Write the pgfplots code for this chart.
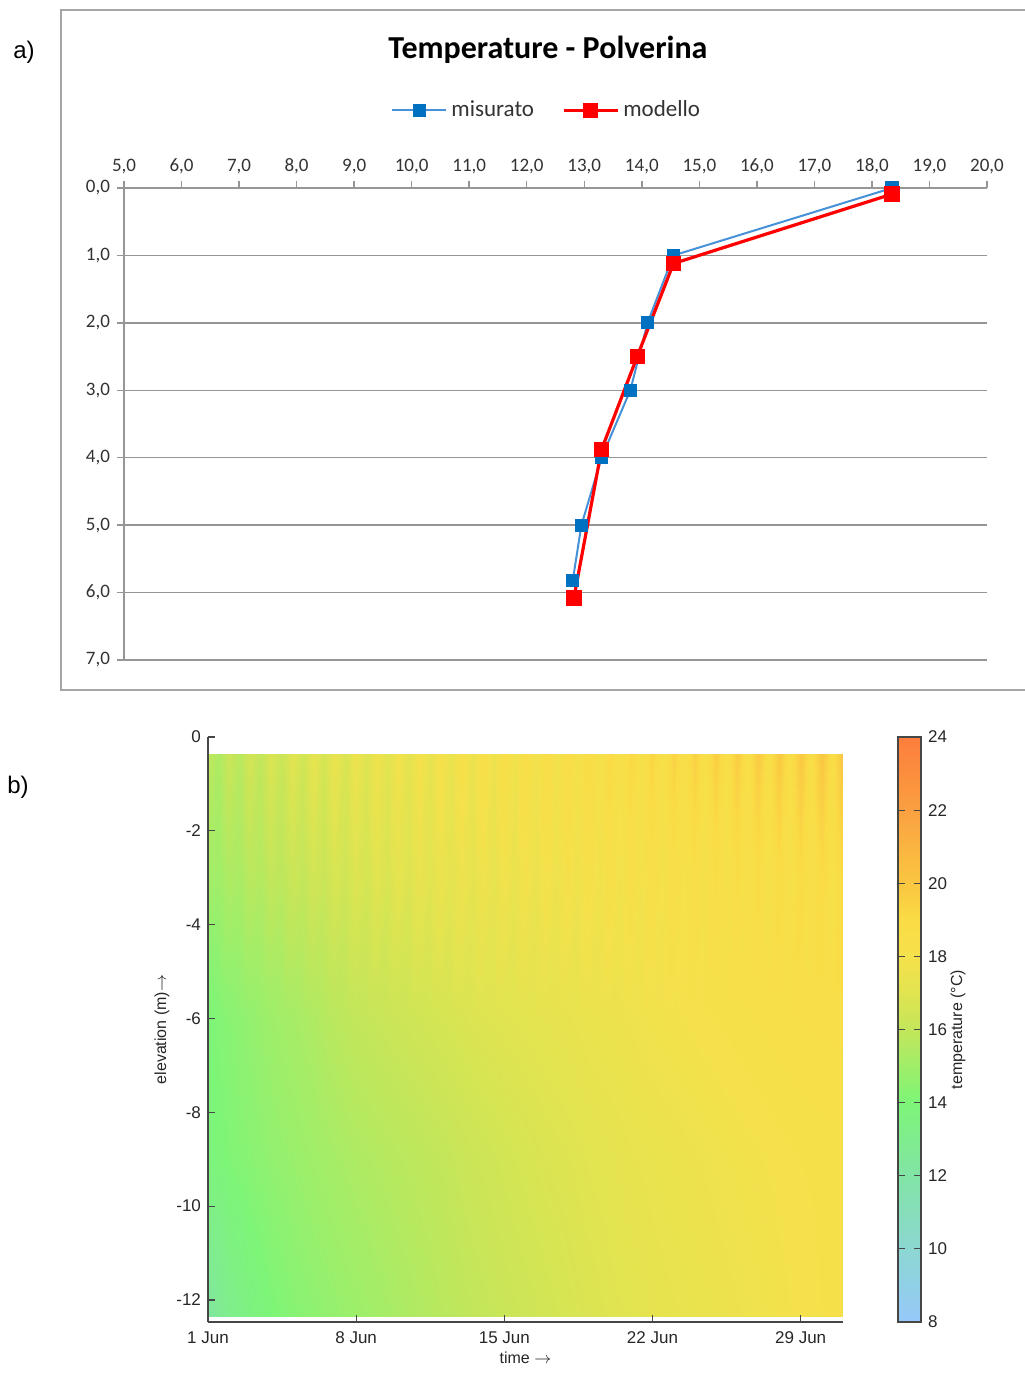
\documentclass[border=0pt]{standalone}
\usepackage{fontspec}
\setmainfont{Carlito}
\newfontfamily\arial{Liberation Sans}
\usepackage{pgfplots}
\usepackage{pgfplotstable}
\pgfplotsset{compat=1.18}
\definecolor{framegray}{RGB}{165,165,165}
\definecolor{gridgray}{RGB}{150,150,150}
\definecolor{misblue}{RGB}{0,112,192}
\definecolor{misline}{RGB}{70,145,215}
\definecolor{modred}{RGB}{255,0,0}
\definecolor{mlgray}{RGB}{70,70,70}

% panel a: temperature (x) vs depth (y)
\pgfplotstableread{
T z
18.35 0.00
14.55 1.00
14.10 2.00
13.80 3.00
13.30 4.00
12.95 5.00
12.80 5.82
}\misurato
\pgfplotstableread{
T z
18.35 0.09
14.55 1.12
13.92 2.50
13.30 3.88
12.82 6.08
}\modello

% panel b: temperature field, days since 1 Jun vs elevation
\pgfplotstableread[row sep=\\]{
x y t\\
0 -0.36 15.95\\ 0.5 -0.36 15.4\\ 1 -0.36 16.27\\ 1.5 -0.36 15.7\\ 2 -0.36 16.57\\ 2.5 -0.36 15.96\\
3 -0.36 16.84\\ 3.5 -0.36 16.2\\ 4 -0.36 17.09\\ 4.5 -0.36 16.41\\ 5 -0.36 17.31\\ 5.5 -0.36 16.58\\
6 -0.36 17.46\\ 6.5 -0.36 16.72\\ 7 -0.36 17.63\\ 7.5 -0.36 16.86\\ 8 -0.36 17.78\\ 8.5 -0.36 17.0\\
9 -0.36 17.95\\ 9.5 -0.36 17.14\\ 10 -0.36 18.1\\ 10.5 -0.36 17.25\\ 11 -0.36 18.22\\ 11.5 -0.36 17.37\\
12 -0.36 18.37\\ 12.5 -0.36 17.48\\ 13 -0.36 18.49\\ 13.5 -0.36 17.58\\ 14 -0.36 18.59\\ 14.5 -0.36 17.66\\
15 -0.36 18.71\\ 15.5 -0.36 17.76\\ 16 -0.36 18.81\\ 16.5 -0.36 17.84\\ 17 -0.36 18.93\\ 17.5 -0.36 17.94\\
18 -0.36 19.03\\ 18.5 -0.36 18.02\\ 19 -0.36 19.15\\ 19.5 -0.36 18.12\\ 20 -0.36 19.25\\ 20.5 -0.36 18.2\\
21 -0.36 19.37\\ 21.5 -0.36 18.3\\ 22 -0.36 19.47\\ 22.5 -0.36 18.36\\ 23 -0.36 19.54\\ 23.5 -0.36 18.43\\
24 -0.36 19.64\\ 24.5 -0.36 18.49\\ 25 -0.36 19.71\\ 25.5 -0.36 18.56\\ 26 -0.36 19.81\\ 26.5 -0.36 18.62\\
27 -0.36 19.88\\ 27.5 -0.36 18.66\\ 28 -0.36 19.93\\ 28.5 -0.36 18.7\\ 29 -0.36 20.0\\ 29.5 -0.36 18.74\\
30 -0.36 20.05\\
0 -3 15.15\\ 0.5 -3 15.0\\ 1 -3 15.46\\ 1.5 -3 15.29\\ 2 -3 15.77\\ 2.5 -3 15.56\\
3 -3 16.02\\ 3.5 -3 15.8\\ 4 -3 16.28\\ 4.5 -3 16.02\\ 5 -3 16.49\\ 5.5 -3 16.21\\
6 -3 16.7\\ 6.5 -3 16.4\\ 7 -3 16.91\\ 7.5 -3 16.57\\ 8 -3 17.06\\ 8.5 -3 16.71\\
9 -3 17.22\\ 9.5 -3 16.85\\ 10 -3 17.38\\ 10.5 -3 17.0\\ 11 -3 17.54\\ 11.5 -3 17.11\\
12 -3 17.65\\ 12.5 -3 17.2\\ 13 -3 17.75\\ 13.5 -3 17.3\\ 14 -3 17.86\\ 14.5 -3 17.39\\
15 -3 17.97\\ 15.5 -3 17.48\\ 16 -3 18.08\\ 16.5 -3 17.57\\ 17 -3 18.19\\ 17.5 -3 17.66\\
18 -3 18.29\\ 18.5 -3 17.76\\ 19 -3 18.4\\ 19.5 -3 17.82\\ 20 -3 18.46\\ 20.5 -3 17.89\\
21 -3 18.57\\ 21.5 -3 17.96\\ 22 -3 18.63\\ 22.5 -3 18.02\\ 23 -3 18.73\\ 23.5 -3 18.09\\
24 -3 18.79\\ 24.5 -3 18.14\\ 25 -3 18.85\\ 25.5 -3 18.18\\ 26 -3 18.91\\ 26.5 -3 18.22\\
27 -3 18.97\\ 27.5 -3 18.26\\ 28 -3 19.02\\ 28.5 -3 18.3\\ 29 -3 19.08\\ 29.5 -3 18.34\\
30 -3 19.14\\
0 -6 14.0\\ 0.5 -6 14.18\\ 1 -6 14.35\\ 1.5 -6 14.5\\ 2 -6 14.65\\ 2.5 -6 14.8\\
3 -6 14.95\\ 3.5 -6 15.08\\ 4 -6 15.2\\ 4.5 -6 15.33\\ 5 -6 15.45\\ 5.5 -6 15.6\\
6 -6 15.75\\ 6.5 -6 15.88\\ 7 -6 16.0\\ 7.5 -6 16.08\\ 8 -6 16.15\\ 8.5 -6 16.23\\
9 -6 16.3\\ 9.5 -6 16.38\\ 10 -6 16.45\\ 10.5 -6 16.53\\ 11 -6 16.6\\ 11.5 -6 16.68\\
12 -6 16.75\\ 12.5 -6 16.83\\ 13 -6 16.9\\ 13.5 -6 16.95\\ 14 -6 17.0\\ 14.5 -6 17.05\\
15 -6 17.1\\ 15.5 -6 17.15\\ 16 -6 17.2\\ 16.5 -6 17.25\\ 17 -6 17.3\\ 17.5 -6 17.38\\
18 -6 17.45\\ 18.5 -6 17.5\\ 19 -6 17.55\\ 19.5 -6 17.6\\ 20 -6 17.65\\ 20.5 -6 17.73\\
21 -6 17.8\\ 21.5 -6 17.85\\ 22 -6 17.9\\ 22.5 -6 17.95\\ 23 -6 18.0\\ 23.5 -6 18.05\\
24 -6 18.1\\ 24.5 -6 18.15\\ 25 -6 18.2\\ 25.5 -6 18.25\\ 26 -6 18.3\\ 26.5 -6 18.35\\
27 -6 18.4\\ 27.5 -6 18.45\\ 28 -6 18.5\\ 28.5 -6 18.53\\ 29 -6 18.55\\ 29.5 -6 18.58\\
30 -6 18.6\\
}\topband

\pgfplotstableread[row sep=\\]{
x y t\\
0 -6 14.0\\ 1 -6 14.35\\ 2 -6 14.65\\ 3 -6 14.95\\ 4 -6 15.2\\ 5 -6 15.45\\ 6 -6 15.75\\ 7 -6 16.0\\
8 -6 16.15\\ 9 -6 16.3\\ 10 -6 16.45\\ 11 -6 16.6\\ 12 -6 16.75\\ 13 -6 16.9\\ 14 -6 17.0\\ 15 -6 17.1\\
16 -6 17.2\\ 17 -6 17.3\\ 18 -6 17.45\\ 19 -6 17.55\\ 20 -6 17.65\\ 21 -6 17.8\\ 22 -6 17.9\\ 23 -6 18.0\\
24 -6 18.1\\ 25 -6 18.2\\ 26 -6 18.3\\ 27 -6 18.4\\ 28 -6 18.5\\ 29 -6 18.55\\ 30 -6 18.6\\
0 -9 13.8\\ 1 -9 14.1\\ 2 -9 14.35\\ 3 -9 14.6\\ 4 -9 14.8\\ 5 -9 15.0\\ 6 -9 15.2\\ 7 -9 15.4\\
8 -9 15.55\\ 9 -9 15.7\\ 10 -9 15.85\\ 11 -9 16.0\\ 12 -9 16.2\\ 13 -9 16.35\\ 14 -9 16.5\\ 15 -9 16.65\\
16 -9 16.8\\ 17 -9 16.9\\ 18 -9 17.05\\ 19 -9 17.15\\ 20 -9 17.3\\ 21 -9 17.4\\ 22 -9 17.5\\ 23 -9 17.6\\
24 -9 17.7\\ 25 -9 17.8\\ 26 -9 17.9\\ 27 -9 18.0\\ 28 -9 18.1\\ 29 -9 18.15\\ 30 -9 18.2\\
0 -12.35 12.3\\ 1 -12.35 13.1\\ 2 -12.35 13.6\\ 3 -12.35 14.0\\ 4 -12.35 14.3\\ 5 -12.35 14.5\\
6 -12.35 14.7\\ 7 -12.35 14.9\\ 8 -12.35 15.1\\ 9 -12.35 15.3\\ 10 -12.35 15.5\\ 11 -12.35 15.7\\
12 -12.35 15.9\\ 13 -12.35 16.05\\ 14 -12.35 16.2\\ 15 -12.35 16.35\\ 16 -12.35 16.5\\ 17 -12.35 16.65\\
18 -12.35 16.8\\ 19 -12.35 16.95\\ 20 -12.35 17.05\\ 21 -12.35 17.2\\ 22 -12.35 17.3\\ 23 -12.35 17.4\\
24 -12.35 17.5\\ 25 -12.35 17.6\\ 26 -12.35 17.7\\ 27 -12.35 17.85\\ 28 -12.35 18.0\\ 29 -12.35 18.1\\
30 -12.35 18.2\\
}\lowband

\begin{document}
\begin{tikzpicture}
\path[use as bounding box] (0,0) rectangle (512pt,-695.5pt);

% frame of panel a (right side runs off the page)
\draw[framegray, line width=1pt] (530pt,-5pt) -- (30.5pt,-5pt) -- (30.5pt,-345pt) -- (530pt,-345pt);
\node[font=\arial\fontsize{12}{14}\selectfont] at (12pt,-26pt) {a)};
\node[font=\arial\fontsize{12}{14}\selectfont] at (9pt,-393.5pt) {b)};
\node[font=\bfseries\fontsize{16}{18}\selectfont] at (274pt,-25pt) {Temperature - Polverina};

\begin{axis}[
    at={(62pt,-330pt)}, anchor=south west,
    scale only axis, width=431.5pt, height=236pt,
    xmin=5, xmax=20, ymin=0, ymax=7, y dir=reverse,
    axis x line*=top, axis y line*=left,
    xtick={5,6,...,20}, ytick={0,1,...,7},
    tick align=outside, major tick length=3.5pt,
    axis line style={gridgray, line width=0.75pt},
    tick style={gridgray, line width=0.75pt},
    ymajorgrids, grid style={gridgray, line width=0.75pt},
    tick label style={font=\fontsize{9.5}{10}\selectfont, text=black!80},
    /pgf/number format/fixed, /pgf/number format/fixed zerofill,
    /pgf/number format/precision=1, /pgf/number format/use comma,
    /pgf/number format/assume math mode=true,
    clip=false,
    legend style={at={(0.491,1.165)}, anchor=center, draw=none, fill=none,
        legend columns=2, font=\fontsize{11.5}{13}\selectfont, text=black!80,
        /tikz/every even column/.append style={column sep=12pt}},
    legend image code/.code={\draw[mark repeat=2,mark phase=2]
        plot coordinates {(0pt,0pt) (13.5pt,0pt) (27pt,0pt)};},
]
\addplot[misline, line width=1pt, mark=square*, mark size=2.8pt,
    mark options={fill=misblue, draw=misblue}] table[x=T, y=z]{\misurato};
\addlegendentry{misurato}
\addplot[modred, line width=1.6pt, mark=square*, mark size=3pt,
    mark options={fill=modred, draw=modred}] table[x=T, y=z]{\modello};
\addlegendentry{modello}
\end{axis}

\begin{axis}[
    at={(104pt,-661pt)}, anchor=south west,
    scale only axis, width=317.5pt, height=292.5pt,
    xmin=0, xmax=30, ymin=-12.47, ymax=0,
    axis on top,
    axis x line*=bottom, axis y line*=left,
    axis line style={mlgray, line width=0.6pt},
    tick align=inside, major tick length=3.5pt,
    tick style={mlgray, line width=0.6pt},
    xtick={0,7,14,21,28}, xticklabels={1 Jun,8 Jun,15 Jun,22 Jun,29 Jun},
    ytick={-12,-10,...,0},
    tick label style={font=\arial\fontsize{8.5}{10}\selectfont, text=black!85},
    xticklabel style={yshift=-1.5pt},
    /pgf/number format/assume math mode=true,
    xlabel={time $\rightarrow$}, ylabel={elevation (m)$\rightarrow$},
    label style={font=\arial\fontsize{8}{10}\selectfont, text=black!85},
    xlabel style={at={(axis description cs:0.5,-0.0615)}, anchor=center},
    ylabel style={at={(axis description cs:-0.0724,0.5)}, anchor=center},
    colormap={tcmap}{rgb255(0cm)=(150,200,250) rgb255(1cm)=(145,208,230)
        rgb255(2cm)=(140,215,210) rgb255(3cm)=(135,222,187) rgb255(4cm)=(130,228,165)
        rgb255(5cm)=(127,237,142) rgb255(6cm)=(125,245,120) rgb255(7cm)=(160,238,105)
        rgb255(8cm)=(195,230,90) rgb255(9cm)=(225,228,80) rgb255(10cm)=(245,225,75)
        rgb255(11cm)=(250,220,70) rgb255(12cm)=(250,198,65) rgb255(13cm)=(250,180,65)
        rgb255(14cm)=(250,160,65) rgb255(15cm)=(251,142,62) rgb255(16cm)=(252,125,60)},
    point meta min=8, point meta max=24,
    colorbar,
    colorbar style={
        at={(parent axis.north east)}, anchor=north west, xshift=19pt,
        width=11.5pt,
        ytick={8,10,...,24},
        tick align=inside, major tick length=3.5pt,
        axis line style={mlgray, line width=0.6pt},
        tick style={mlgray, line width=0.6pt},
        yticklabel style={font=\arial\fontsize{8.5}{10}\selectfont, text=black!85},
        /pgf/number format/assume math mode=true,
        ylabel={temperature (°C)},
        ylabel style={font=\arial\fontsize{8}{10}\selectfont, text=black!85,
            at={(axis description cs:2.6,0.5)}, anchor=center},
    },
]
\addplot[surf, shader=interp, mesh/cols=61, point meta=explicit]
    table[x=x, y=y, meta=t]{\topband};
\addplot[surf, shader=interp, mesh/cols=31, point meta=explicit]
    table[x=x, y=y, meta=t]{\lowband};
\end{axis}
\end{tikzpicture}
\end{document}
